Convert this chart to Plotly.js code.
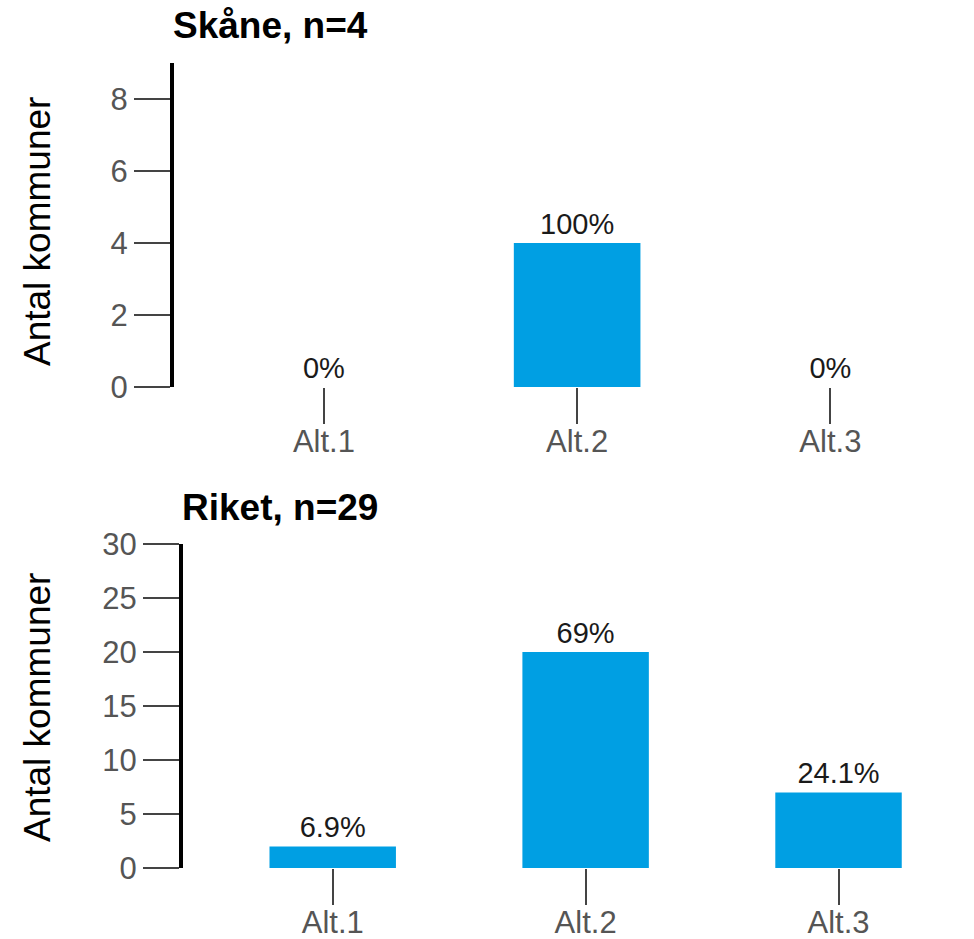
<!DOCTYPE html>
<html>
<head>
<meta charset="utf-8">
<script src="https://cdn.plot.ly/plotly-3.0.1.min.js"></script>
<style>html,body{margin:0;padding:0;background:#fff;}#chart{width:974px;height:939px;}</style>
</head>
<body>
<div id="chart"></div>
<script>
const categories = ['Alt.1', 'Alt.2', 'Alt.3'];
const skaneValues = [0, 4, 0];
const skaneLabels = ['0%', '100%', '0%'];
const riketValues = [2, 20, 7];
const riketLabels = ['6.9%', '69%', '24.1%'];
const skaneTitle = 'Skåne, n=4';
const riketTitle = 'Riket, n=29';
const yTitle = 'Antal kommuner';

const FONT = 'Liberation Sans, Arial, sans-serif';
const barColor = '#009FE3';

function barTrace(vals, labels, xa, ya) {
  return {
    type: 'bar', x: categories, y: vals, text: labels,
    xaxis: xa, yaxis: ya,
    marker: {color: barColor},
    width: 0.5,
    textposition: 'outside', cliponaxis: false, constraintext: 'none',
    textfont: {family: FONT, size: 29, color: '#1a1a1a'},
    hoverinfo: 'skip'
  };
}

const xCommon = {
  type: 'category', range: [-0.592, 2.508], showgrid: false, zeroline: false, showline: false,
  ticks: 'outside', ticklen: 36, tickwidth: 2, tickcolor: '#444', ticklabelstandoff: -9,
  tickfont: {family: FONT, size: 31, color: '#555'}, fixedrange: true
};
const yCommon = {
  showgrid: false, zeroline: false, showline: true, linewidth: 4, linecolor: '#000',
  ticks: 'outside', ticklen: 36, tickwidth: 2, tickcolor: '#444',
  tickfont: {family: FONT, size: 31, color: '#555'}, fixedrange: true
};

const layout = {
  width: 974, height: 939,
  margin: {l: 0, r: 0, t: 0, b: 0},
  paper_bgcolor: '#fff', plot_bgcolor: '#fff',
  showlegend: false,
  bargap: 0.5,
  xaxis: Object.assign({}, xCommon, {domain: [174/974, 959/974], anchor: 'y'}),
  yaxis: Object.assign({}, yCommon, {domain: [1 - 387/939, 1 - 63/939], range: [0, 9], tickvals: [0, 2, 4, 6, 8], anchor: 'x'}),
  xaxis2: Object.assign({}, xCommon, {domain: [183/974, 967/974], anchor: 'y2'}),
  yaxis2: Object.assign({}, yCommon, {domain: [1 - 868/939, 1 - 544/939], range: [0, 30], tickvals: [0, 5, 10, 15, 20, 25, 30], anchor: 'x2'}),
  annotations: [
    {text: '<b>' + skaneTitle + '</b>', xref: 'paper', yref: 'paper', x: 171/974, y: 1 - 26/939,
     xanchor: 'left', yanchor: 'middle', showarrow: false, font: {family: FONT, size: 37, color: '#000'}},
    {text: '<b>' + riketTitle + '</b>', xref: 'paper', yref: 'paper', x: 180/974, y: 1 - 507/939,
     xanchor: 'left', yanchor: 'middle', showarrow: false, font: {family: FONT, size: 37, color: '#000'}},
    {text: yTitle, xref: 'paper', yref: 'paper', x: 37/974, y: 1 - 232/939, textangle: -90,
     xanchor: 'center', yanchor: 'middle', showarrow: false, font: {family: FONT, size: 37, color: '#000'}},
    {text: yTitle, xref: 'paper', yref: 'paper', x: 37/974, y: 1 - 708/939, textangle: -90,
     xanchor: 'center', yanchor: 'middle', showarrow: false, font: {family: FONT, size: 37, color: '#000'}}
  ]
};

Plotly.newPlot('chart', [
  barTrace(skaneValues, skaneLabels, 'x', 'y'),
  barTrace(riketValues, riketLabels, 'x2', 'y2')
], layout, {displayModeBar: false, staticPlot: true});
</script>
</body>
</html>
